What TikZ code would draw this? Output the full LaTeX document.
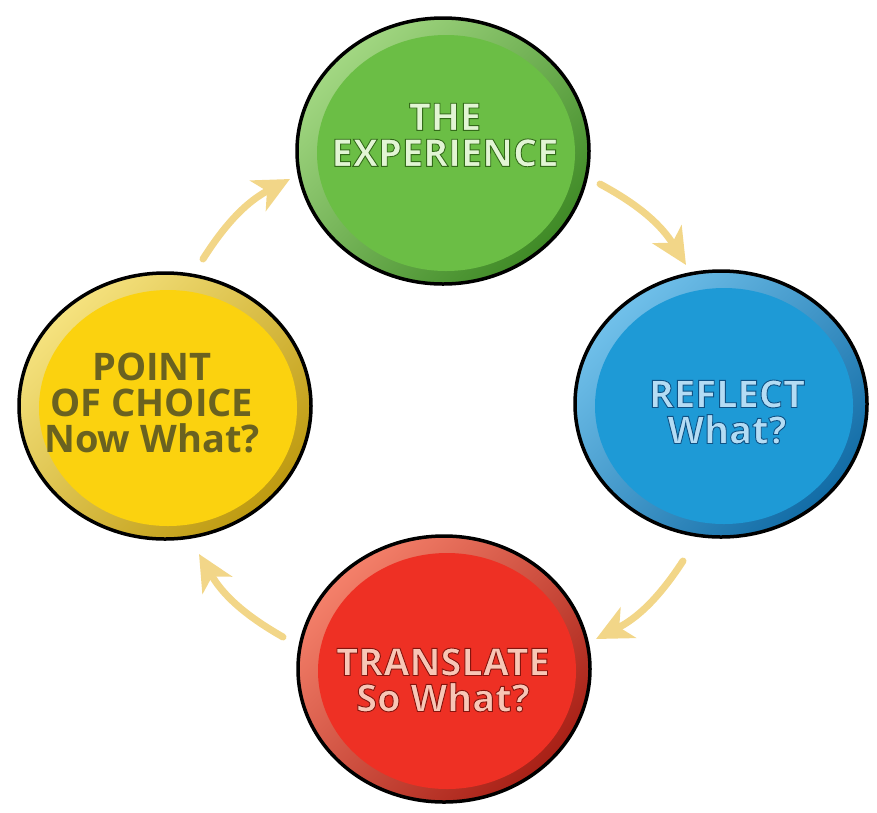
\documentclass[tikz,border=0pt]{standalone}
\usepackage{fontspec}
\setmainfont{Open Sans}
\usetikzlibrary{shapes.geometric,arrows.meta}
\definecolor{gmain}{HTML}{6BBE45}\definecolor{glight}{HTML}{A2D782}\definecolor{gdark}{HTML}{3F8A26}
\definecolor{gtext}{HTML}{E2F5D4}
\definecolor{bmain}{HTML}{1E9AD6}\definecolor{blight}{HTML}{70C0EA}\definecolor{bdark}{HTML}{126CA6}
\definecolor{btext}{HTML}{B4DCF4}
\definecolor{rmain}{HTML}{EE3024}\definecolor{rlight}{HTML}{F4806A}\definecolor{rdark}{HTML}{A82016}
\definecolor{rtext}{HTML}{F8C6B6}
\definecolor{ymain}{HTML}{FBD20F}\definecolor{ylight}{HTML}{F5E27E}\definecolor{ydark}{HTML}{BE9A10}
\definecolor{ytext}{HTML}{6A6220}
\definecolor{arrowc}{HTML}{F2D688}
% outlined (embossed-looking) text: fill in current colour, thin stroke in given rgb
\newcommand{\embossed}[2]{\special{pdf:code 2 Tr 0.9 w #1 RG}#2\special{pdf:code 0 Tr}}
\begin{document}
\begin{tikzpicture}[x=1pt,y=-1pt,
  bubble/.style={ellipse, draw=black, line width=3.5pt, minimum width=292pt, minimum height=266pt, inner sep=0pt},
  core/.style={ellipse, minimum width=258pt, minimum height=236pt, inner sep=0pt},
  lbl/.style={font=\bfseries\fontsize{38}{36}\selectfont, align=center, inner sep=0pt},
  arr/.style={draw=arrowc, line width=7pt, line cap=round, -{Stealth[length=36pt,width=34pt,inset=10pt]}}
]
\useasboundingbox (0,0) rectangle (877,812);
% green
\node[bubble, top color=glight, bottom color=gdark, shading angle=45] (g) at (443,151) {};
\node[core, fill=gmain] (gi) at (446,153) {};
\node[lbl, text=gtext] (gt) at (445,135) {\embossed{0.20 0.42 0.10}{THE}\\\embossed{0.20 0.42 0.10}{EXPERIENCE}};
% blue
\node[bubble, top color=blight, bottom color=bdark, shading angle=45] (b) at (721,404) {};
\node[core, fill=bmain] (bi) at (724,406) {};
\node[lbl, text=btext] (bt) at (727,412) {\embossed{0.06 0.32 0.52}{REFLECT}\\\embossed{0.06 0.32 0.52}{What?}};
% red
\node[bubble, top color=rlight, bottom color=rdark, shading angle=45] (r) at (444,669) {};
\node[core, fill=rmain] (ri) at (447,671) {};
\node[lbl, text=rtext] (rt) at (443,680) {\embossed{0.52 0.08 0.05}{TRANSLATE}\\\embossed{0.52 0.08 0.05}{So What?}};
% yellow
\node[bubble, top color=ylight, bottom color=ydark, shading angle=45] (y) at (165,406) {};
\node[core, fill=ymain] (yi) at (168,408) {};
\node[lbl, text=ytext] (yt) at (152,403) {POINT\\OF CHOICE\\Now What?};
% arrows
\coordinate (a1s) at (600,184); \coordinate (a1e) at (686,265);
\coordinate (a2s) at (683,561); \coordinate (a2e) at (596,639);
\coordinate (a3s) at (283,637); \coordinate (a3e) at (199,554);
\coordinate (a4s) at (203,259); \coordinate (a4e) at (290,179);
\draw[arr] (a1s) to[bend left=15] (a1e);
\draw[arr] (a2s) to[bend left=15] (a2e);
\draw[arr] (a3s) to[bend left=15] (a3e);
\draw[arr] (a4s) to[bend left=15] (a4e);
\end{tikzpicture}
\end{document}
